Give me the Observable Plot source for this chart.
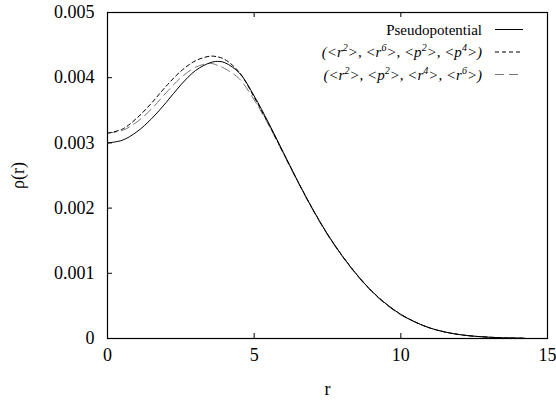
<!DOCTYPE html>
<html>
<head>
<meta charset="utf-8">
<script src="https://cdn.jsdelivr.net/npm/d3@7"></script>
<script src="https://cdn.jsdelivr.net/npm/@observablehq/plot@0.6"></script>
<style>
  html, body { margin: 0; padding: 0; background: white; }
  svg { display: block; }
  svg, svg text { font-family: "Liberation Serif", "Times New Roman", Times, Tinos, "Nimbus Roman", "Nimbus Roman No9 L", FreeSerif, "Noto Serif", "DejaVu Serif", serif !important; }
</style>
</head>
<body>
<div id="chart"></div>
<script>
const r = [0, 0.5, 1, 1.5, 2, 2.5, 3, 3.5, 3.75, 4, 4.5, 5, 5.5, 6, 6.5, 7, 7.5, 8, 8.5, 9, 9.5, 10, 10.5, 11, 11.5, 12, 12.5, 13, 13.5, 14, 14.2];
const pseudo = [0.00300, 0.00304, 0.00317, 0.00337, 0.00362, 0.00389, 0.00411, 0.00423, 0.00425, 0.00423, 0.00407, 0.00372, 0.00330, 0.00285, 0.00240, 0.00198, 0.00160, 0.00127, 0.00098, 0.00073, 0.00053, 0.00037, 0.00025, 0.00016, 0.00010, 0.00006, 0.000035, 0.00002, 0.00001, 0.000006, 0.000005];
const fitA = [0.00315, 0.00321, 0.00338, 0.00361, 0.00387, 0.00410, 0.00426, 0.00433, 0.00432, 0.00428, 0.00408, 0.00370, 0.00328, 0.00284, 0.00240, 0.00198, 0.00160, 0.00127, 0.00098, 0.00073, 0.00053, 0.00037, 0.00025, 0.00016, 0.00010, 0.00006, 0.000035, 0.00002, 0.00001, 0.000006, 0.000005];
const fitB = [0.00315, 0.00319, 0.00332, 0.00352, 0.00377, 0.00400, 0.00416, 0.00422, 0.00419, 0.00414, 0.00398, 0.00366, 0.00327, 0.00283, 0.00239, 0.00197, 0.00159, 0.00126, 0.00097, 0.00072, 0.00052, 0.00036, 0.00025, 0.00016, 0.00010, 0.00006, 0.000035, 0.00002, 0.00001, 0.000006, 0.000005];
const xTicks = [0, 5, 10, 15];
const yTicks = [0, 0.001, 0.002, 0.003, 0.004, 0.005];
const seriesNames = ["Pseudopotential", "(<r²>, <r⁶>, <p²>, <p⁴>)", "(<r²>, <p²>, <r⁴>, <r⁶>)"];

const toRows = ys => r.map((x, i) => ({r: x, rho: ys[i]}));

const font = "Liberation Serif, Times New Roman, serif";
const plot = Plot.plot({
  width: 556,
  height: 401,
  marginLeft: 107,
  marginRight: 9,
  marginTop: 12,
  marginBottom: 63,
  style: {fontFamily: font, fontSize: "18px", background: "white", color: "black"},
  x: {domain: [0, 15]},
  y: {domain: [0, 0.005]},
  marks: [
    Plot.axisX(xTicks, {tickSize: 0, tickPadding: 10, fontSize: 18, label: "r", labelAnchor: "center", labelArrow: "none", labelOffset: 56}),
    Plot.axisY(yTicks, {tickSize: 0, tickPadding: 13, fontSize: 18, tickFormat: d => d === 0 ? "0" : d.toFixed(3), label: "ρ(r)", labelAnchor: "center", labelArrow: "none", labelOffset: 96}),
    Plot.tickX(xTicks.slice(1, -1), {x: d => d, insetTop: 321, stroke: "black"}),
    Plot.tickX(xTicks.slice(1, -1), {x: d => d, insetBottom: 321, stroke: "black"}),
    Plot.tickY(yTicks.slice(1, -1), {y: d => d, insetRight: 435, stroke: "black"}),
    Plot.line(toRows(fitB), {x: "r", y: "rho", curve: "catmull-rom", stroke: "#777", strokeWidth: 1, strokeDasharray: "9,5"}),
    Plot.line(toRows(fitA), {x: "r", y: "rho", curve: "catmull-rom", stroke: "black", strokeWidth: 1, strokeDasharray: "4,3"}),
    Plot.line(toRows(pseudo), {x: "r", y: "rho", curve: "catmull-rom", stroke: "black", strokeWidth: 1}),
    Plot.frame({stroke: "black", strokeWidth: 1.2})
  ]
});
document.getElementById("chart").appendChild(plot);

// legend (inside the frame, top-right)
const svg = d3.select(plot);
const lg = svg.append("g").attr("font-size", 15);
const rowsY = [29.5, 52, 74.5];
const styles = [
  {stroke: "black", dash: null},
  {stroke: "black", dash: "4,3"},
  {stroke: "#777", dash: "9,5"}
];
function addLabel(i, text) {
  const t = lg.append("text")
    .attr("x", 482).attr("y", rowsY[i]).attr("dy", "0.35em")
    .attr("text-anchor", "end")
    .attr("font-style", i === 0 ? "normal" : "italic");
  const sup = {"²": "2", "⁴": "4", "⁶": "6"};
  let buf = "";
  let raised = false;
  const flush = () => { if (buf) { t.append("tspan").text(buf); buf = ""; } };
  for (const ch of text) {
    if (sup[ch]) {
      flush();
      t.append("tspan").attr("dy", -6).attr("font-size", 10).text(sup[ch]);
      raised = true;
    } else {
      if (raised) { t.append("tspan").attr("dy", 6).text(ch); raised = false; }
      else buf += ch;
    }
  }
  flush();
}
seriesNames.forEach((name, i) => {
  addLabel(i, name);
  lg.append("line")
    .attr("x1", 495).attr("x2", 523)
    .attr("y1", rowsY[i]).attr("y2", rowsY[i])
    .attr("stroke", styles[i].stroke)
    .attr("stroke-width", 1)
    .attr("stroke-dasharray", styles[i].dash);
});
</script>
</body>
</html>
